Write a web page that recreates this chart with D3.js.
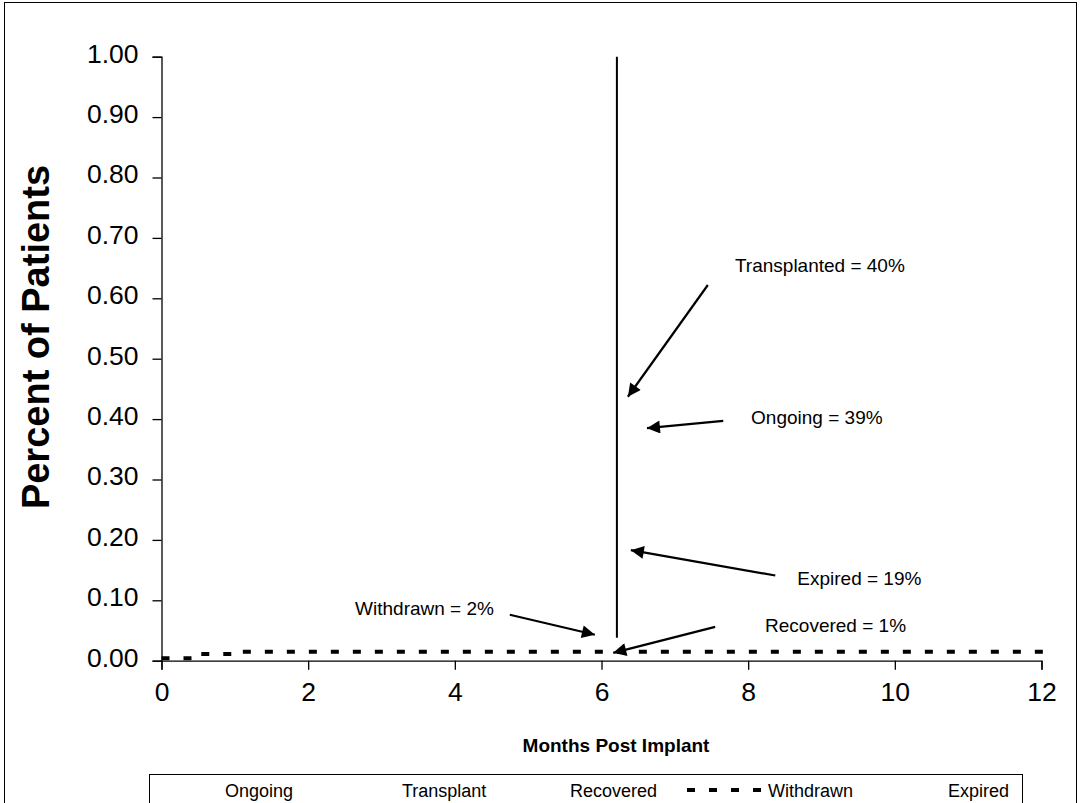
<!DOCTYPE html>
<html>
<head>
<meta charset="utf-8">
<script src="https://cdn.jsdelivr.net/npm/d3@7"></script>
<style>
  html, body { margin: 0; padding: 0; background: #fff; }
  svg { display: block; font-family: Arial, "Liberation Sans", sans-serif; }
</style>
</head>
<body>
<svg id="chart" width="1081" height="803"></svg>
<script>
// Axis ticks
const xTicks = [0, 2, 4, 6, 8, 10, 12];
const yTicks = [0, 0.1, 0.2, 0.3, 0.4, 0.5, 0.6, 0.7, 0.8, 0.9, 1.0];

// Withdrawn cumulative fraction (step curve)
const withdrawnMonths = [0, 0.5, 1.1, 12.07];
const withdrawnValues = [0.004, 0.011, 0.015, 0.015];

// Vertical marker drawn at the evaluation month
const markerMonth = [6.21, 6.21];
const markerValues = [1.0, 0.038];

// Outcome annotations
const outcomeLabels = ["Transplanted = 40%", "Ongoing = 39%", "Expired = 19%", "Withdrawn = 2%", "Recovered = 1%"];

// Legend entries
const legendLabels = ["Ongoing", "Transplant", "Recovered", "Withdrawn", "Expired"];

// Annotation layout in data units: text anchor and arrow (from -> to)
const annotationLayout = [
  { tx: 7.82, ty: 0.643, x1: 7.45, y1: 0.622, x2: 6.36, y2: 0.437 },
  { tx: 8.04, ty: 0.392, x1: 7.66, y1: 0.397, x2: 6.62, y2: 0.385 },
  { tx: 8.67, ty: 0.125, x1: 8.37, y1: 0.141, x2: 6.40, y2: 0.183 },
  { tx: 2.64, ty: 0.076, x1: 4.75, y1: 0.076, x2: 5.91, y2: 0.043 },
  { tx: 8.23, ty: 0.048, x1: 7.55, y1: 0.056, x2: 6.16, y2: 0.013 }
];

const svg = d3.select("#chart");

// Outer frame
svg.append("rect")
  .attr("x", 4.5).attr("y", 2.5).attr("width", 1072).attr("height", 820)
  .attr("fill", "none").attr("stroke", "#000").attr("stroke-width", 1);

const x = d3.scaleLinear().domain([0, 12]).range([161.5, 1041.5]);
const y = d3.scaleLinear().domain([0, 1]).range([660.7, 56.7]);

// Y axis
const yAxis = d3.axisLeft(y).tickValues(yTicks).tickFormat(d3.format(".2f")).tickSize(9).tickPadding(14);
const gy = svg.append("g").attr("transform", `translate(${x(0)},0)`).call(yAxis);
gy.select(".domain").attr("stroke", "#000").attr("stroke-width", 1.3);
gy.selectAll(".tick line").attr("stroke", "#000").attr("stroke-width", 1.3);
gy.selectAll(".tick text").attr("font-size", 26.5).attr("fill", "#000")
  .attr("font-family", "Arial, 'Liberation Sans', sans-serif").attr("dy", "0.2em");

// X axis
const xAxis = d3.axisBottom(x).tickValues(xTicks).tickFormat(d3.format("d")).tickSize(9).tickPadding(12);
const gx = svg.append("g").attr("transform", `translate(0,${y(0)})`).call(xAxis);
gx.select(".domain").attr("stroke", "#000").attr("stroke-width", 1.3);
gx.selectAll(".tick line").attr("stroke", "#000").attr("stroke-width", 1.3);
gx.selectAll(".tick text").attr("font-size", 26.5).attr("fill", "#000")
  .attr("font-family", "Arial, 'Liberation Sans', sans-serif");

// Axis titles
svg.append("text")
  .attr("transform", `translate(49,337) rotate(-90)`)
  .attr("text-anchor", "middle")
  .attr("font-size", 38).attr("font-weight", "bold")
  .text("Percent of Patients");

svg.append("text")
  .attr("x", 616).attr("y", 752)
  .attr("text-anchor", "middle")
  .attr("font-size", 19).attr("font-weight", "bold")
  .text("Months Post Implant");

// Vertical marker line
const markerPts = markerMonth.map((m, i) => [m, markerValues[i]]);
svg.append("path")
  .attr("d", d3.line().x(d => x(d[0])).y(d => y(d[1]))(markerPts))
  .attr("stroke", "#000").attr("stroke-width", 2).attr("fill", "none");

// Withdrawn series
const withdrawnPts = withdrawnMonths.map((m, i) => [m, withdrawnValues[i]]);
svg.append("path")
  .attr("d", d3.line().curve(d3.curveStepAfter).x(d => x(d[0])).y(d => y(d[1]))(withdrawnPts))
  .attr("stroke", "#000").attr("stroke-width", 4).attr("fill", "none")
  .attr("stroke-dasharray", "8,14");

// Arrowhead
svg.append("defs").append("marker")
  .attr("id", "arrowhead")
  .attr("viewBox", "0 0 10 10")
  .attr("refX", 10).attr("refY", 5)
  .attr("markerUnits", "userSpaceOnUse")
  .attr("markerWidth", 16).attr("markerHeight", 13)
  .attr("orient", "auto")
  .append("path").attr("d", "M0,0 L10,5 L0,10 Z").attr("fill", "#000");

// Annotations
const ann = svg.append("g");
annotationLayout.forEach((a, i) => {
  ann.append("line")
    .attr("x1", x(a.x1)).attr("y1", y(a.y1))
    .attr("x2", x(a.x2)).attr("y2", y(a.y2))
    .attr("stroke", "#000").attr("stroke-width", 2.2)
    .attr("marker-end", "url(#arrowhead)");
  ann.append("text")
    .attr("x", x(a.tx)).attr("y", y(a.ty))
    .attr("font-size", 19)
    .text(outcomeLabels[i]);
});

// Legend
const legend = svg.append("g");
legend.append("rect")
  .attr("x", 149.5).attr("y", 774.5).attr("width", 873).attr("height", 60)
  .attr("fill", "#fff").attr("stroke", "#000").attr("stroke-width", 1);

const legendTextX = [225, 402, 570, 768, 948];
legendLabels.forEach((lab, i) => {
  legend.append("text")
    .attr("x", legendTextX[i]).attr("y", 797)
    .attr("font-size", 18)
    .text(lab);
});
// Withdrawn legend sample
legend.append("line")
  .attr("x1", 687).attr("x2", 766).attr("y1", 790).attr("y2", 790)
  .attr("stroke", "#000").attr("stroke-width", 4)
  .attr("stroke-dasharray", "8,14");
</script>
</body>
</html>
